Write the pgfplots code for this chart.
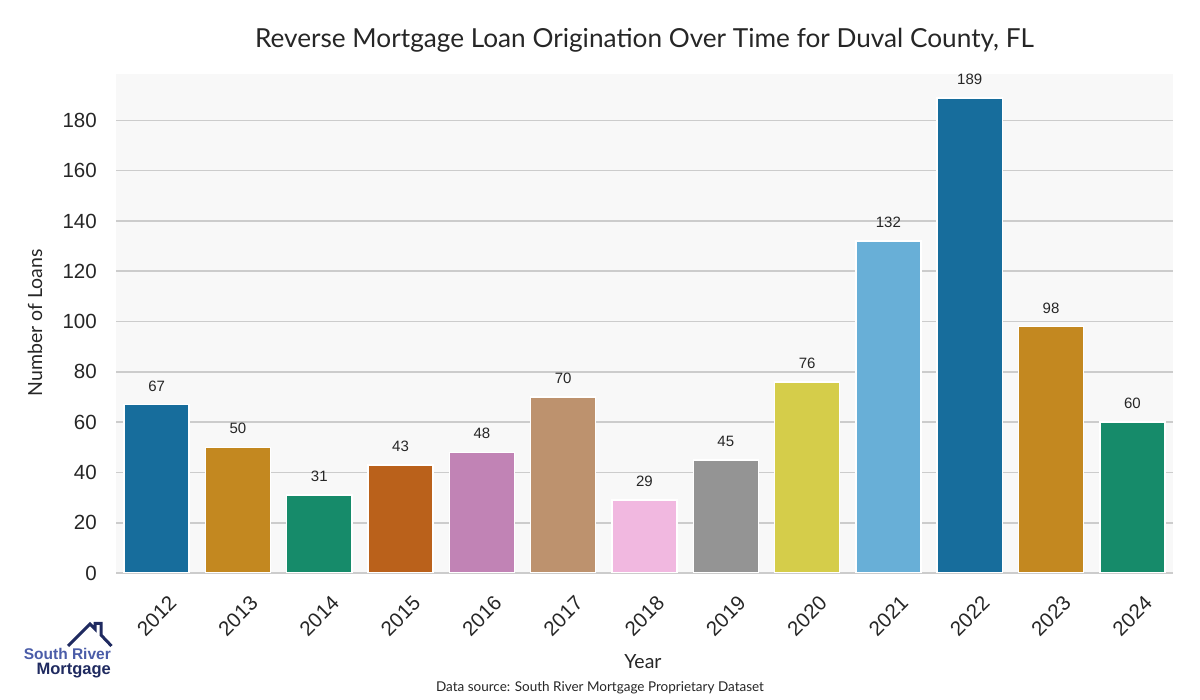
\documentclass[border=0pt]{standalone}
\usepackage{pgfplots}
\pgfplotsset{compat=1.18}
\usepackage{fontspec}
\setmainfont{Lato}
\newfontfamily\arialf{Liberation Sans}
\definecolor{bgc}{HTML}{F8F8F8}
\definecolor{gridc}{HTML}{CCCCCC}
\definecolor{txt}{HTML}{262626}
\definecolor{c0}{HTML}{176D9C}
\definecolor{c1}{HTML}{C38820}
\definecolor{c2}{HTML}{168B6A}
\definecolor{c3}{HTML}{BA611B}
\definecolor{c4}{HTML}{C183B5}
\definecolor{c5}{HTML}{BD926E}
\definecolor{c6}{HTML}{F1B8E0}
\definecolor{c7}{HTML}{949494}
\definecolor{c8}{HTML}{D5CD4A}
\definecolor{c9}{HTML}{68AFD7}
\definecolor{logoblue}{HTML}{4A5CA8}
\definecolor{logonavy}{HTML}{1F2A60}
\begin{document}
\begin{tikzpicture}[x=1pt,y=1pt]
\path[use as bounding box] (0,0) rectangle (1200,700);
\begin{axis}[at={(116pt,127pt)}, anchor=south west, scale only axis,
  width=1057pt, height=499pt,
  xmin=-0.5, xmax=12.5, ymin=0, ymax=198.45,
  axis background/.style={fill=bgc},
  axis line style={draw=none},
  major tick length=0pt,
  /pgf/number format/assume math mode=true,
  ytick={0,20,...,180},
  xtick={0,1,...,12},
  xticklabels={2012,2013,2014,2015,2016,2017,2018,2019,2020,2021,2022,2023,2024},
  ymajorgrids, grid style={gridc, line width=1.6pt},
  tick label style={font=\arialf\fontsize{20.5}{24}\selectfont, text=txt},
  yticklabel style={inner sep=0pt, anchor=east, xshift=-19pt},
  xticklabel shift=43pt,
  xticklabel style={inner sep=0pt, rotate=45, anchor=center},
  ybar, bar width=0.8, bar shift=0pt,
  every axis plot/.append style={draw=white, line width=1.5pt},
  nodes near coords,
  every node near coord/.append style={font=\arialf\fontsize{15}{18}\selectfont, text=txt, anchor=south, inner sep=0pt, yshift=12.5pt},
]
\addplot[fill=c0] coordinates {(0,67)};
\addplot[fill=c1] coordinates {(1,50)};
\addplot[fill=c2] coordinates {(2,31)};
\addplot[fill=c3] coordinates {(3,43)};
\addplot[fill=c4] coordinates {(4,48)};
\addplot[fill=c5] coordinates {(5,70)};
\addplot[fill=c6] coordinates {(6,29)};
\addplot[fill=c7] coordinates {(7,45)};
\addplot[fill=c8] coordinates {(8,76)};
\addplot[fill=c9] coordinates {(9,132)};
\addplot[fill=c0] coordinates {(10,189)};
\addplot[fill=c1] coordinates {(11,98)};
\addplot[fill=c2] coordinates {(12,60)};
\end{axis}
\node[font=\fontsize{26.2}{30}\selectfont, text=txt] at (644.5,660) {Reverse Mortgage Loan Origination Over Time for Duval County, FL};
\node[font=\fontsize{19.5}{23}\selectfont, text=txt, rotate=90] at (35,377) {Number of Loans};
\node[font=\fontsize{19.5}{23}\selectfont, text=txt] at (643,38) {Year};
\node[font=\fontsize{13.5}{16}\selectfont, text=txt] at (600,12) {Data source: South River Mortgage Proprietary Dataset};
% logo
\draw[logonavy, line width=3pt, line join=miter] (68,54) -- (90,76) -- (95,71) -- (95,76.5) -- (101,76.5) -- (101,65) -- (111.5,54);
\node[font=\arialf\bfseries\fontsize{15.5}{19}\selectfont, text=logoblue, anchor=east, inner sep=0pt] at (111,46) {South River};
\node[font=\arialf\bfseries\fontsize{16.5}{19}\selectfont, text=logonavy, anchor=east, inner sep=0pt] at (111,29) {Mortgage};
\end{tikzpicture}
\end{document}
